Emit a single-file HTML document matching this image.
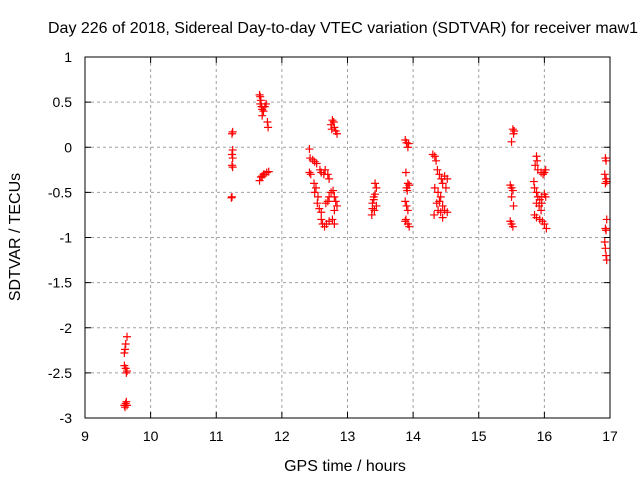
<!DOCTYPE html>
<html><head><meta charset="utf-8"><style>
body{margin:0;background:#fff}
svg text{font-family:"Liberation Sans",sans-serif;font-size:14px;fill:#000}
svg text.big{font-size:16px}
</style></head><body>
<svg id="chart" width="640" height="480">
<text class="big" x="343" y="33" text-anchor="middle" textLength="590" lengthAdjust="spacingAndGlyphs">Day 226 of 2018, Sidereal Day-to-day VTEC variation (SDTVAR) for receiver maw1</text>
<text class="big" x="345" y="471" text-anchor="middle">GPS time / hours</text>
<text class="big" transform="translate(20,237) rotate(-90)" text-anchor="middle">SDTVAR / TECUs</text>
<g id="grid"></g><g id="ticks"></g><g id="pts"></g>
<rect x="85" y="57" width="525" height="361" fill="none" stroke="#000"/>
</svg>
<script>
const xTicks=[9,10,11,12,13,14,15,16,17];
const yTicks=[1,0.5,0,-0.5,-1,-1.5,-2,-2.5,-3];
const yTickLabels=["1","0.5","0","-0.5","-1","-1.5","-2","-2.5","-3"];
const times=[9.64,9.62,9.61,9.6,9.6,9.62,9.64,9.63,9.6,9.62,9.64,9.61,9.63,
11.25,11.24,11.25,11.24,11.25,11.24,11.25,11.24,11.23,
11.66,11.67,11.68,11.67,11.69,11.7,11.72,11.74,11.76,11.7,11.78,11.79,11.66,11.68,11.7,11.72,11.74,11.77,11.8,
12.42,12.42,12.44,12.43,12.47,12.5,12.53,12.49,12.52,12.5,12.55,12.54,12.57,12.6,12.6,12.62,12.65,12.58,12.6,12.64,12.66,12.7,12.72,12.67,12.7,12.72,12.75,12.78,12.8,12.82,12.84,12.8,12.77,12.72,12.68,12.8,12.75,12.77,12.79,12.8,12.82,12.84,12.76,
13.37,13.38,13.38,13.4,13.42,13.44,13.42,13.4,13.44,13.41,
13.88,13.9,13.92,13.93,13.89,13.9,13.92,13.94,13.91,13.88,13.9,13.92,13.89,13.92,13.94,13.88,
14.3,14.33,14.35,14.37,14.4,14.43,14.45,14.48,14.52,14.5,14.33,14.38,14.42,14.4,14.45,14.38,14.42,14.48,14.52,14.32,14.45,14.36,
15.52,15.54,15.53,15.5,15.48,15.5,15.52,15.5,15.53,15.48,15.5,15.52,
15.88,15.89,15.86,15.9,15.95,15.98,16.0,16.02,15.84,15.85,15.88,15.9,15.93,15.96,16.0,16.02,15.88,15.92,15.95,15.85,15.88,15.93,15.97,16.0,16.03,15.96,
16.93,16.94,16.92,16.94,16.93,16.95,16.95,16.93,16.94,16.92,16.93,16.94,16.95];
const sdtvar=[-2.1,-2.18,-2.24,-2.28,-2.42,-2.45,-2.48,-2.5,-2.86,-2.84,-2.86,-2.88,-2.82,
0.17,0.15,-0.03,-0.08,-0.12,-0.2,-0.22,-0.55,-0.56,
0.58,0.56,0.52,0.48,0.45,0.42,0.4,0.45,0.48,0.35,0.28,0.22,-0.37,-0.33,-0.32,-0.3,-0.3,-0.28,-0.27,
-0.02,-0.28,-0.3,-0.12,-0.14,-0.16,-0.18,-0.4,-0.45,-0.5,-0.55,-0.62,-0.68,-0.72,-0.8,-0.85,-0.88,-0.25,-0.28,-0.3,-0.25,-0.3,-0.35,-0.62,-0.6,-0.55,-0.5,-0.48,-0.55,-0.6,-0.65,-0.7,-0.8,-0.82,-0.85,-0.85,0.25,0.3,0.28,0.22,0.18,0.15,0.2,
-0.75,-0.68,-0.62,-0.58,-0.52,-0.45,-0.4,-0.55,-0.65,-0.7,
0.08,0.05,0.0,0.04,-0.28,-0.45,-0.4,-0.42,-0.48,-0.6,-0.65,-0.7,-0.8,-0.85,-0.88,-0.82,
-0.08,-0.1,-0.15,-0.25,-0.3,-0.35,-0.4,-0.32,-0.35,-0.45,-0.45,-0.5,-0.55,-0.6,-0.65,-0.7,-0.72,-0.7,-0.72,-0.75,-0.78,-0.62,
0.2,0.18,0.15,0.06,-0.42,-0.45,-0.48,-0.55,-0.65,-0.82,-0.85,-0.88,
-0.1,-0.15,-0.2,-0.25,-0.28,-0.3,-0.28,-0.25,-0.38,-0.45,-0.5,-0.55,-0.58,-0.55,-0.52,-0.55,-0.62,-0.65,-0.7,-0.75,-0.78,-0.8,-0.82,-0.85,-0.9,-0.62,
-0.12,-0.15,-0.3,-0.35,-0.4,-0.38,-0.8,-0.9,-0.92,-1.05,-1.12,-1.2,-1.25];
const X=v=>85+(v-9)*525/8, Y=v=>57+(1-v)*361/4;
const NS='http://www.w3.org/2000/svg';
function mk(p,t,a){const e=document.createElementNS(NS,t);for(const k in a)e.setAttribute(k,a[k]);p.appendChild(e);return e;}
const g=document.getElementById('grid'),tk=document.getElementById('ticks'),pts=document.getElementById('pts');
xTicks.forEach(v=>{const x=X(v);
 if(v>9&&v<17){const l=mk(g,'line',{x1:x,x2:x,y1:57,y2:418,stroke:'#a0a0a0','stroke-dasharray':'3,3'});
 
 }
 mk(tk,'line',{x1:x,x2:x,y1:418,y2:412,stroke:'#000'});
 mk(tk,'line',{x1:x,x2:x,y1:57,y2:63,stroke:'#000'});
 const t=mk(tk,'text',{x:x,y:441,'text-anchor':'middle'});t.textContent=v;
 
 });
yTicks.forEach((v,i)=>{const y=Y(v);
 if(v<1&&v>-3){const l=mk(g,'line',{x1:85,x2:610,y1:y,y2:y,stroke:'#a0a0a0','stroke-dasharray':'3,3'});
 
 }
 mk(tk,'line',{x1:85,x2:91,y1:y,y2:y,stroke:'#000'});
 mk(tk,'line',{x1:604,x2:610,y1:y,y2:y,stroke:'#000'});
 const t=mk(tk,'text',{x:72,y:y+5,'text-anchor':'end'});t.textContent=yTickLabels[i];
 
 });
times.forEach((tv,i)=>{const x=X(tv),y=Y(sdtvar[i]);
 const p=mk(pts,'path',{d:`M${x-4},${y}h8M${x},${y-4}v8`,stroke:'#f00','stroke-width':1.2});
 
 });
</script>
</body></html>
